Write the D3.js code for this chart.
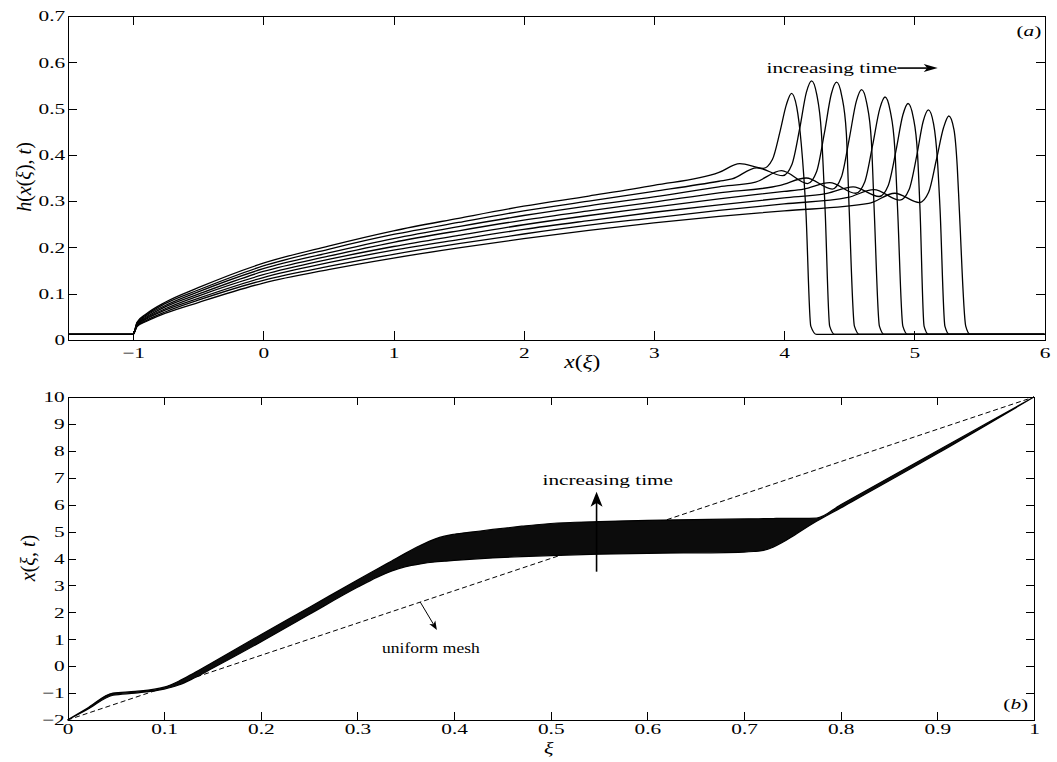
<!DOCTYPE html>
<html lang="en">
<head>
<meta charset="utf-8">
<title>Film profiles and moving mesh</title>
<script src="https://d3js.org/d3.v7.min.js"></script>
<style>
  body { margin: 0; background: #fff; }
  svg { display: block; font-family: "Liberation Serif", "Times New Roman", serif; }
  .axis path, .axis line { stroke: #000; stroke-width: 1; shape-rendering: crispEdges; fill: none; }
  .axis text { font-size: 15px; fill: #000; font-family: "Liberation Serif", "Times New Roman", serif; }
</style>
</head>
<body>
<script>
// ---- panel (a): h(x(xi),t), 8 snapshots, earliest first ----
var xTicksA = [-1, 0, 1, 2, 3, 4, 5, 6];
var hTicks = [0, 0.1, 0.2, 0.3, 0.4, 0.5, 0.6, 0.7];
var xGrid = [-1.5, -1, -0.97, -0.9, -0.75, -0.5, 0, 0.5, 1, 1.5, 2, 2.5, 3, 3.5];
var hUpstream = [
  [.012, .012, .038, .056, .082, .113, .166, .203, .236, .263, .289, .311, .334, .362],
  [.012, .012, .037, .054, .079, .108, .160, .196, .228, .254, .279, .300, .321, .343],
  [.012, .012, .035, .052, .075, .104, .154, .188, .219, .245, .269, .290, .309, .331],
  [.012, .012, .034, .049, .072, .099, .148, .181, .211, .236, .259, .279, .298, .318],
  [.012, .012, .033, .047, .068, .095, .141, .174, .202, .226, .249, .269, .287, .305],
  [.012, .012, .031, .045, .065, .090, .135, .167, .194, .217, .239, .258, .276, .292],
  [.012, .012, .030, .042, .061, .086, .129, .159, .185, .208, .229, .248, .264, .280],
  [.012, .012, .029, .040, .058, .081, .123, .152, .177, .199, .219, .237, .253, .267]
];
// capillary ridge + front of each snapshot (x, h)
var hFront = [
  [[3.66,.381],[3.84,.371],[3.91,.39],[3.97,.452],[4.017,.508],[4.057,.533],[4.097,.503],[4.132,.423],[4.167,.281],[4.205,.03],[4.25,.012],[6,.012]],
  [[3.6,.348],[3.79,.372],[3.99,.355],[4.06,.379],[4.12,.457],[4.171,.535],[4.211,.56],[4.251,.53],[4.286,.45],[4.315,.281],[4.35,.03],[4.39,.012],[6,.012]],
  [[3.78,.341],[3.98,.366],[4.18,.338],[4.25,.364],[4.31,.448],[4.363,.532],[4.403,.557],[4.443,.527],[4.478,.447],[4.5,.281],[4.54,.03],[4.58,.012],[6,.012]],
  [[3.97,.334],[4.17,.35],[4.37,.326],[4.44,.352],[4.5,.434],[4.555,.516],[4.595,.541],[4.635,.511],[4.67,.431],[4.692,.281],[4.732,.03],[4.77,.012],[6,.012]],
  [[4.0,.321],[4.15,.326],[4.35,.34],[4.55,.317],[4.62,.342],[4.68,.421],[4.735,.50],[4.775,.525],[4.815,.495],[4.85,.415],[4.872,.281],[4.912,.03],[4.95,.012],[6,.012]],
  [[4.0,.307],[4.33,.317],[4.53,.331],[4.73,.31],[4.80,.334],[4.86,.41],[4.912,.486],[4.952,.511],[4.992,.481],[5.025,.401],[5.044,.281],[5.075,.03],[5.11,.012],[6,.012]],
  [[4.0,.294],[4.49,.308],[4.69,.325],[4.89,.302],[4.96,.325],[5.02,.40],[5.068,.472],[5.108,.497],[5.148,.467],[5.178,.387],[5.198,.281],[5.235,.03],[5.27,.012],[6,.012]],
  [[4.0,.279],[4.65,.295],[4.85,.317],[5.04,.297],[5.11,.319],[5.17,.39],[5.225,.459],[5.265,.484],[5.305,.454],[5.33,.374],[5.346,.281],[5.395,.03],[5.43,.012],[6,.012]]
];

// ---- panel (b): x(xi,t) mesh band (earliest / latest envelope) ----
var xiTicks = [0, 0.1, 0.2, 0.3, 0.4, 0.5, 0.6, 0.7, 0.8, 0.9, 1];
var xTicksB = [-2, -1, 0, 1, 2, 3, 4, 5, 6, 7, 8, 9, 10];
var bandXi   = [0, 0.02, 0.047, 0.07, 0.1, 0.115, 0.13, 0.15, 0.2, 0.25, 0.3, 0.32, 0.335, 0.35, 0.365, 0.38, 0.39, 0.4, 0.42, 0.44, 0.47, 0.5, 0.55, 0.6, 0.7, 0.71, 0.72, 0.73, 0.74, 0.75, 0.76, 0.775, 0.8, 0.9, 1];
var bandLow  = [-2, -1.62, -1.08, -1.0, -0.85, -0.7, -0.46, -0.08, 0.9, 1.92, 2.93, 3.3, 3.53, 3.7, 3.8, 3.87, 3.9, 3.93, 3.98, 4.02, 4.07, 4.11, 4.16, 4.19, 4.24, 4.26, 4.3, 4.42, 4.6, 4.82, 5.05, 5.38, 5.88, 7.9, 10];
var bandHigh = [-2, -1.57, -1.0, -0.94, -0.78, -0.56, -0.27, 0.14, 1.17, 2.18, 3.2, 3.6, 3.9, 4.2, 4.48, 4.72, 4.83, 4.9, 4.99, 5.08, 5.2, 5.3, 5.37, 5.42, 5.47, 5.475, 5.48, 5.485, 5.49, 5.49, 5.49, 5.5, 6.0, 8.0, 10];
var uniformMesh = [[0, -2], [1, 10]];

var W = 1057, H = 762, SX = 1.42;

var svg = d3.select("body").append("svg")
  .attr("width", W).attr("height", H);

// scales
var xA = d3.scaleLinear().domain([-1.5, 6]).range([68, 1044.5]);
var yA = d3.scaleLinear().domain([0, 0.7]).range([340, 16]);
var xB = d3.scaleLinear().domain([0, 1]).range([67.5, 1034]);
var yB = d3.scaleLinear().domain([-2, 10]).range([720, 397]);

function fmt1(d) { return (d === 0 || d === 1) ? d3.format("d")(d) : d3.format(".1f")(d); }

function drawBox(xs, ys, xt, yt, xFmt, yFmt, tick, padX, padY) {
  var x0 = xs.range()[0], x1 = xs.range()[1], y0 = ys.range()[0], y1 = ys.range()[1];
  var gb = svg.append("g").attr("class", "axis").attr("transform", "translate(0," + y0 + ")")
    .call(d3.axisBottom(xs).tickValues(xt).tickFormat(xFmt).tickSizeInner(-tick).tickSizeOuter(0).tickPadding(padX));
  var gl = svg.append("g").attr("class", "axis").attr("transform", "translate(" + x0 + ",0)")
    .call(d3.axisLeft(ys).tickValues(yt).tickFormat(yFmt).tickSizeInner(-tick).tickSizeOuter(0).tickPadding(padY));
  svg.append("g").attr("class", "axis").attr("transform", "translate(0," + y1 + ")")
    .call(d3.axisTop(xs).tickValues(xt).tickFormat("").tickSizeInner(-tick).tickSizeOuter(0));
  svg.append("g").attr("class", "axis").attr("transform", "translate(" + x1 + ",0)")
    .call(d3.axisRight(ys).tickValues(yt).tickFormat("").tickSizeInner(-tick).tickSizeOuter(0));
  // stretched tick labels, like the original figure
  gb.selectAll(".tick text").attr("transform", "scale(" + SX + ",1)");
  gl.selectAll(".tick text").attr("transform", "scale(" + SX + ",1)");
}

function stretched(g, x, y, size, anchor, sx) {
  return g.append("text")
    .attr("transform", "translate(" + x + "," + y + ") scale(" + (sx || SX) + ",1)")
    .attr("text-anchor", anchor || "start")
    .style("font-size", size + "px");
}

function mathText(t, parts) {
  parts.forEach(function (p) {
    t.append("tspan").style("font-style", p[1] ? "italic" : "normal").text(p[0]);
  });
  return t;
}

function arrow(g, x1, y1, x2, y2, len, hw, sw) {
  var a = Math.atan2(y2 - y1, x2 - x1), c = Math.cos(a), s = Math.sin(a);
  var bx = x2 - c * len, by = y2 - s * len;
  var nx = x2 - c * len * 0.75, ny = y2 - s * len * 0.75;
  g.append("line").attr("x1", x1).attr("y1", y1).attr("x2", nx).attr("y2", ny)
    .attr("stroke", "#000").attr("stroke-width", sw);
  g.append("path")
    .attr("d", "M" + x2 + "," + y2 +
      "L" + (bx - s * hw) + "," + (by + c * hw) +
      "L" + nx + "," + ny +
      "L" + (bx + s * hw) + "," + (by - c * hw) + "Z")
    .attr("fill", "#000");
}

// ---------------- panel (a) ----------------
var lineA = d3.line().x(function (d) { return xA(d[0]); }).y(function (d) { return yA(d[1]); })
  .curve(d3.curveMonotoneX);

var profiles = hUpstream.map(function (row, k) {
  return xGrid.map(function (x, i) { return [x, row[i]]; }).concat(hFront[k]);
});

var gA = svg.append("g");
gA.selectAll("path.profile").data(profiles).enter().append("path")
  .attr("class", "profile")
  .attr("d", lineA)
  .attr("fill", "none")
  .attr("stroke", "#000")
  .attr("stroke-width", 1.3);

drawBox(xA, yA, xTicksA, hTicks, d3.format("d"),
  function (d) { return d === 0 ? "0" : d3.format(".1f")(d); }, 9, 7, 2);

stretched(gA, xA(3.865), yA(0.5767), 15).text("increasing time");
arrow(gA, xA(4.87), yA(0.5875), xA(5.18), yA(0.5875), 14, 4, 1.6);
stretched(gA, xA(5.975), yA(0.657), 15, "end").call(mathText, [["(", false], ["a", true], [")", false]]);

// x label
svg.append("text")
  .attr("transform", "translate(" + xA(2.45) + ",368) scale(1.3,1)")
  .attr("text-anchor", "middle").style("font-size", "18px")
  .call(mathText, [["x", true], ["(", false], ["ξ", true], [")", false]]);

// y label
svg.append("text")
  .attr("transform", "translate(31,177) rotate(-90)")
  .attr("text-anchor", "middle").style("font-size", "20px")
  .call(mathText, [["h", true], ["(", false], ["x", true], ["(", false], ["ξ", true], ["), ", false], ["t", true], [")", false]]);

// ---------------- panel (b) ----------------
var gB = svg.append("g");

gB.append("path")
  .attr("d", d3.line().x(function (d) { return xB(d[0]); }).y(function (d) { return yB(d[1]); })(uniformMesh))
  .attr("fill", "none").attr("stroke", "#000").attr("stroke-width", 1)
  .attr("stroke-dasharray", "5,3");

var bandData = bandXi.map(function (xi, i) { return { xi: xi, lo: bandLow[i], hi: bandHigh[i] }; });
gB.append("path")
  .datum(bandData)
  .attr("d", d3.area()
    .x(function (d) { return xB(d.xi); })
    .y0(function (d) { return yB(d.lo); })
    .y1(function (d) { return yB(d.hi); })
    .curve(d3.curveMonotoneX))
  .attr("fill", "#0c0c0c")
  .attr("stroke", "#000")
  .attr("stroke-width", 1.2);

drawBox(xB, yB, xiTicks, xTicksB, fmt1, d3.format("d"), 8, 3.5, 2);

stretched(gB, xB(0.559), yB(6.73), 15, "middle").text("increasing time");
arrow(gB, xB(0.5474), yB(3.51), xB(0.5474), yB(6.48), 15, 6, 1.6);

stretched(gB, xB(0.376), 653, 14, "middle", 1.25).text("uniform mesh");
arrow(gB, xB(0.365), yB(-2 + 12 * 0.365), xB(0.3822), yB(1.343), 9, 3.5, 1);

stretched(gB, xB(0.994), 709, 15, "end").call(mathText, [["(", false], ["b", true], [")", false]]);

svg.append("text")
  .attr("transform", "translate(" + xB(0.498) + ",754) scale(1.3,1)")
  .attr("text-anchor", "middle").style("font-size", "17px").style("font-style", "italic")
  .text("ξ");

svg.append("text")
  .attr("transform", "translate(35,558) rotate(-90)")
  .attr("text-anchor", "middle").style("font-size", "20px")
  .call(mathText, [["x", true], ["(", false], ["ξ", true], [", ", false], ["t", true], [")", false]]);
</script>
</body>
</html>
